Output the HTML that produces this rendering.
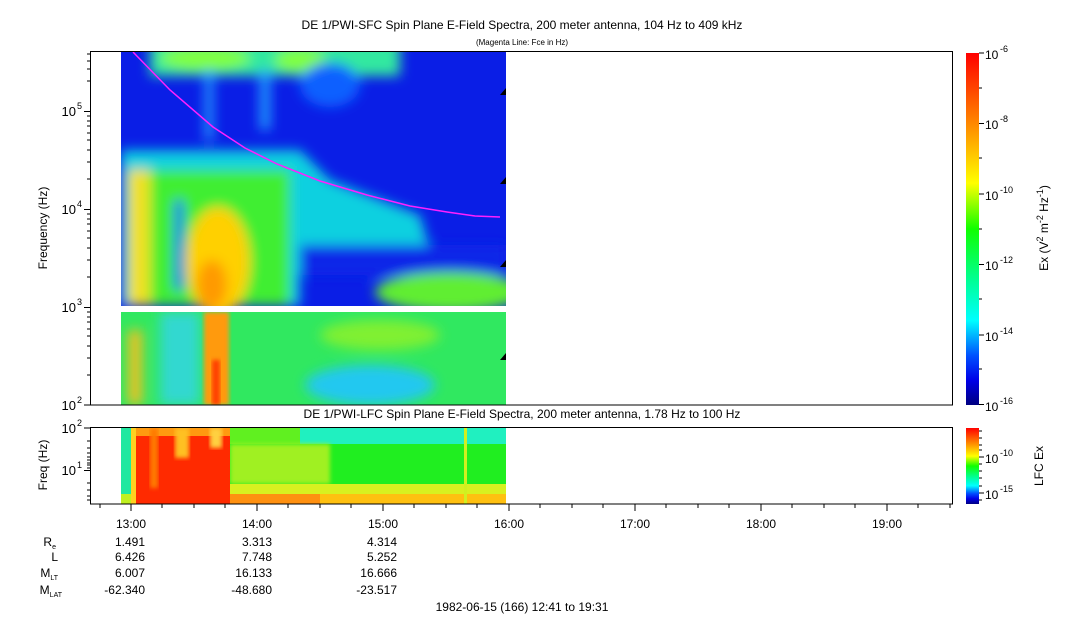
<!DOCTYPE html>
<html><head><meta charset="utf-8"><style>
body{margin:0;background:#fff;width:1083px;height:620px;overflow:hidden;font-family:"Liberation Sans",sans-serif;}
</style></head><body>
<svg width="1083" height="620" viewBox="0 0 1083 620" xmlns="http://www.w3.org/2000/svg" font-family="Liberation Sans, sans-serif">
<defs>
<linearGradient id="cb" x1="0" y1="0" x2="0" y2="1">
<stop offset="0" stop-color="#ff0000"/><stop offset="0.18" stop-color="#ff7a00"/><stop offset="0.37" stop-color="#ffff00"/><stop offset="0.5" stop-color="#10ff00"/><stop offset="0.65" stop-color="#00ff99"/><stop offset="0.76" stop-color="#00ffff"/><stop offset="0.86" stop-color="#0050ff"/><stop offset="0.93" stop-color="#0000e8"/><stop offset="1" stop-color="#000080"/>
</linearGradient>
<filter id="bl" x="-20%" y="-20%" width="140%" height="140%"><feGaussianBlur stdDeviation="6"/></filter>
<filter id="bl2"><feGaussianBlur stdDeviation="2"/></filter>
<clipPath id="c1"><rect x="121" y="52" width="385" height="254"/></clipPath>
<clipPath id="c2"><rect x="121" y="312" width="385" height="93"/></clipPath>
<clipPath id="c3"><rect x="121" y="428" width="385" height="76"/></clipPath>
</defs>
<text x="522" y="29" font-size="12" text-anchor="middle">DE 1/PWI-SFC  Spin Plane E-Field Spectra, 200 meter antenna, 104 Hz to 409 kHz</text>
<text x="522" y="45" font-size="8" text-anchor="middle">(Magenta Line: Fce in Hz)</text>
<text x="522" y="418" font-size="12" text-anchor="middle">DE 1/PWI-LFC  Spin Plane E-Field Spectra, 200 meter antenna, 1.78 Hz to 100 Hz</text>

<g clip-path="url(#c1)">
<rect x="121" y="52" width="385" height="254" fill="#0a1ee6"/>
<g filter="url(#bl)">
<rect x="150" y="40" width="250" height="36" fill="#30e8a0"/>
<ellipse cx="205" cy="58" rx="45" ry="12" fill="#80ff40"/>
<ellipse cx="300" cy="60" rx="25" ry="12" fill="#80ff40"/>
<ellipse cx="330" cy="85" rx="30" ry="22" fill="#1060ff"/>
<rect x="260" y="70" width="10" height="60" fill="#20a0ff"/>
<rect x="205" y="70" width="8" height="70" fill="#20a0ff"/>
<polygon points="121,150 300,150 330,180 420,215 430,250 300,250 300,306 121,306" fill="#10d0e0"/>
<rect x="300" y="245" width="206" height="30" fill="#0a28e8"/>
<rect x="128" y="170" width="42" height="136" fill="#f0e020"/>
<rect x="150" y="170" width="140" height="136" fill="#40ee30"/>
<ellipse cx="218" cy="262" rx="32" ry="55" fill="#ffd000"/>
<ellipse cx="212" cy="285" rx="15" ry="25" fill="#ff9a00"/>
<ellipse cx="450" cy="292" rx="75" ry="20" fill="#60ee30"/>
<rect x="175" y="200" width="8" height="90" fill="#1040ff"/>
</g>
</g>
<g clip-path="url(#c2)">
<rect x="121" y="312" width="385" height="93" fill="#30e860"/>
<g filter="url(#bl)">
<rect x="160" y="312" width="40" height="93" fill="#30d8d0"/>
<ellipse cx="370" cy="385" rx="65" ry="20" fill="#20c8f0"/>
<ellipse cx="380" cy="335" rx="60" ry="15" fill="#80f030"/>
<rect x="128" y="330" width="14" height="75" fill="#f0c020"/>
</g>
<rect x="204" y="312" width="25" height="93" fill="#ff9a10" filter="url(#bl2)"/>
<rect x="212" y="360" width="8" height="45" fill="#ff4000" filter="url(#bl2)"/>
</g>
<polyline points="133,52 170,90 213,127 245,148 277,164 320,181 367,195 410,206 447,212 475,216 500,217" fill="none" stroke="#ff20ff" stroke-width="1.5"/>
<g fill="#000">
<polygon points="506,88 500,95 506,95"/><polygon points="506,177 500,184 506,184"/><polygon points="506,260 500,267 506,267"/><polygon points="506,353 500,360 506,360"/>
</g>
<rect x="90.5" y="51.5" width="862" height="353.5" fill="none" stroke="#000" stroke-width="1"/>
<g stroke="#000" stroke-width="1">
<line x1="84" y1="111.5" x2="90" y2="111.5"/><line x1="84" y1="209.5" x2="90" y2="209.5"/><line x1="84" y1="307.5" x2="90" y2="307.5"/><line x1="84" y1="405" x2="90" y2="405"/>
<line x1="87" y1="81" x2="90" y2="81"/><line x1="87" y1="69" x2="90" y2="69"/><line x1="87" y1="61" x2="90" y2="61"/><line x1="87" y1="54" x2="90" y2="54"/>
<line x1="87" y1="179" x2="90" y2="179"/><line x1="87" y1="162" x2="90" y2="162"/><line x1="87" y1="150" x2="90" y2="150"/><line x1="87" y1="140" x2="90" y2="140"/><line x1="87" y1="133" x2="90" y2="133"/><line x1="87" y1="126" x2="90" y2="126"/><line x1="87" y1="121" x2="90" y2="121"/><line x1="87" y1="116" x2="90" y2="116"/>
<line x1="87" y1="277" x2="90" y2="277"/><line x1="87" y1="260" x2="90" y2="260"/><line x1="87" y1="248" x2="90" y2="248"/><line x1="87" y1="238" x2="90" y2="238"/><line x1="87" y1="231" x2="90" y2="231"/><line x1="87" y1="224" x2="90" y2="224"/><line x1="87" y1="219" x2="90" y2="219"/><line x1="87" y1="214" x2="90" y2="214"/>
<line x1="87" y1="375" x2="90" y2="375"/><line x1="87" y1="358" x2="90" y2="358"/><line x1="87" y1="346" x2="90" y2="346"/><line x1="87" y1="336" x2="90" y2="336"/><line x1="87" y1="329" x2="90" y2="329"/><line x1="87" y1="322" x2="90" y2="322"/><line x1="87" y1="317" x2="90" y2="317"/><line x1="87" y1="312" x2="90" y2="312"/>
</g>
<g font-size="13" text-anchor="end">
<text x="76" y="116">10</text><text x="76" y="214">10</text><text x="76" y="312">10</text><text x="76" y="410">10</text>
</g>
<g font-size="9"><text x="77" y="109">5</text><text x="77" y="207">4</text><text x="77" y="305">3</text><text x="77" y="403">2</text></g>
<text transform="translate(47,228) rotate(-90)" font-size="12" text-anchor="middle">Frequency (Hz)</text>

<rect x="966" y="53" width="13" height="352" fill="url(#cb)"/>
<g stroke="#000"><line x1="979" y1="53" x2="984" y2="53"/><line x1="979" y1="123.5" x2="984" y2="123.5"/><line x1="979" y1="194" x2="984" y2="194"/><line x1="979" y1="264.5" x2="984" y2="264.5"/><line x1="979" y1="335" x2="984" y2="335"/><line x1="979" y1="404.5" x2="984" y2="404.5"/>
<line x1="979" y1="88" x2="982" y2="88"/><line x1="979" y1="158" x2="982" y2="158"/><line x1="979" y1="229" x2="982" y2="229"/><line x1="979" y1="299" x2="982" y2="299"/><line x1="979" y1="369" x2="982" y2="369"/></g>
<g font-size="12"><text x="985" y="59">10</text><text x="985" y="129">10</text><text x="985" y="200">10</text><text x="985" y="270">10</text><text x="985" y="341">10</text><text x="985" y="411">10</text></g>
<g font-size="9"><text x="1000" y="52">-6</text><text x="1000" y="122">-8</text><text x="1000" y="193">-10</text><text x="1000" y="263">-12</text><text x="1000" y="334">-14</text><text x="1000" y="404">-16</text></g>
<text transform="translate(1048,228) rotate(-90)" font-size="12" text-anchor="middle">Ex (V<tspan font-size="9" dy="-5">2</tspan><tspan dy="5"> m</tspan><tspan font-size="9" dy="-5">-2</tspan><tspan dy="5"> Hz</tspan><tspan font-size="9" dy="-5">-1</tspan><tspan dy="5">)</tspan></text>

<g clip-path="url(#c3)">
<rect x="121" y="428" width="385" height="76" fill="#20ee20"/>
<rect x="121" y="428" width="10" height="76" fill="#20e8a0"/>
<rect x="121" y="494" width="10" height="10" fill="#c0f020"/>
<rect x="300" y="428" width="206" height="16" fill="#20f0c0"/>
<rect x="230" y="428" width="70" height="16" fill="#60f020"/>
<rect x="230" y="444" width="100" height="40" fill="#a0f020" filter="url(#bl2)"/>
<rect x="230" y="484" width="276" height="10" fill="#d8f020"/>
<rect x="230" y="494" width="276" height="10" fill="#ffc010"/>
<rect x="230" y="494" width="90" height="10" fill="#ff9010"/>
<rect x="131" y="428" width="99" height="76" fill="#ff2a00"/>
<rect x="131" y="428" width="99" height="8" fill="#ff9a10"/>
<rect x="150" y="428" width="8" height="60" fill="#ff7a00" filter="url(#bl2)"/>
<rect x="175" y="428" width="14" height="30" fill="#ffc020" filter="url(#bl2)"/>
<rect x="210" y="428" width="12" height="20" fill="#ffd040" filter="url(#bl2)"/>
<rect x="131" y="428" width="5" height="76" fill="#ffd020"/>
<rect x="464" y="428" width="3" height="76" fill="#d0f020"/>
</g>
<rect x="90.5" y="427.5" width="862" height="76.5" fill="none" stroke="#000"/>
<g stroke="#000"><line x1="84" y1="428" x2="90" y2="428"/><line x1="84" y1="470.5" x2="90" y2="470.5"/>
<line x1="87" y1="441" x2="90" y2="441"/><line x1="87" y1="448" x2="90" y2="448"/><line x1="87" y1="453" x2="90" y2="453"/><line x1="87" y1="457" x2="90" y2="457"/><line x1="87" y1="460" x2="90" y2="460"/><line x1="87" y1="463" x2="90" y2="463"/><line x1="87" y1="465" x2="90" y2="465"/><line x1="87" y1="468" x2="90" y2="468"/><line x1="87" y1="483" x2="90" y2="483"/><line x1="87" y1="490" x2="90" y2="490"/><line x1="87" y1="496" x2="90" y2="496"/><line x1="87" y1="500" x2="90" y2="500"/>
</g>
<g font-size="13" text-anchor="end"><text x="76" y="433">10</text><text x="76" y="475">10</text></g>
<g font-size="9"><text x="77" y="426">2</text><text x="77" y="468">1</text></g>
<text transform="translate(47,465) rotate(-90)" font-size="12" text-anchor="middle">Freq (Hz)</text>
<rect x="966" y="428" width="13" height="76" fill="url(#cb)"/>
<g stroke="#000"><line x1="979" y1="457" x2="984" y2="457"/><line x1="979" y1="493" x2="984" y2="493"/>
<line x1="979" y1="431" x2="982" y2="431"/><line x1="979" y1="438" x2="982" y2="438"/><line x1="979" y1="445" x2="982" y2="445"/><line x1="979" y1="450" x2="982" y2="450"/><line x1="979" y1="464" x2="982" y2="464"/><line x1="979" y1="471" x2="982" y2="471"/><line x1="979" y1="478" x2="982" y2="478"/><line x1="979" y1="486" x2="982" y2="486"/><line x1="979" y1="500" x2="982" y2="500"/></g>
<g font-size="12"><text x="985" y="463">10</text><text x="985" y="499">10</text></g>
<g font-size="9"><text x="1000" y="456">-10</text><text x="1000" y="492">-15</text></g>
<text transform="translate(1043,466) rotate(-90)" font-size="12" text-anchor="middle">LFC Ex</text>

<g stroke="#000">
<line x1="131" y1="504" x2="131" y2="511"/><line x1="257" y1="504" x2="257" y2="511"/><line x1="383" y1="504" x2="383" y2="511"/><line x1="509" y1="504" x2="509" y2="511"/><line x1="635" y1="504" x2="635" y2="511"/><line x1="761" y1="504" x2="761" y2="511"/><line x1="887" y1="504" x2="887" y2="511"/>
<line x1="100" y1="504" x2="100" y2="508"/><line x1="162" y1="504" x2="162" y2="508"/><line x1="194" y1="504" x2="194" y2="508"/><line x1="225" y1="504" x2="225" y2="508"/><line x1="288" y1="504" x2="288" y2="508"/><line x1="320" y1="504" x2="320" y2="508"/><line x1="351" y1="504" x2="351" y2="508"/><line x1="414" y1="504" x2="414" y2="508"/><line x1="446" y1="504" x2="446" y2="508"/><line x1="477" y1="504" x2="477" y2="508"/><line x1="540" y1="504" x2="540" y2="508"/><line x1="572" y1="504" x2="572" y2="508"/><line x1="603" y1="504" x2="603" y2="508"/><line x1="666" y1="504" x2="666" y2="508"/><line x1="698" y1="504" x2="698" y2="508"/><line x1="729" y1="504" x2="729" y2="508"/><line x1="792" y1="504" x2="792" y2="508"/><line x1="824" y1="504" x2="824" y2="508"/><line x1="855" y1="504" x2="855" y2="508"/><line x1="918" y1="504" x2="918" y2="508"/><line x1="950" y1="504" x2="950" y2="508"/>
</g>
<g font-size="12" text-anchor="middle">
<text x="131" y="528">13:00</text><text x="257" y="528">14:00</text><text x="383" y="528">15:00</text><text x="509" y="528">16:00</text><text x="635" y="528">17:00</text><text x="761" y="528">18:00</text><text x="887" y="528">19:00</text>
</g>
<g font-size="12" text-anchor="end">
<text x="56" y="546">R<tspan font-size="7" dy="3">e</tspan></text>
<text x="58" y="561">L</text>
<text x="58" y="577">M<tspan font-size="7" dy="3">LT</tspan></text>
<text x="62" y="594">M<tspan font-size="7" dy="3">LAT</tspan></text>
<text x="145" y="546">1.491</text><text x="272" y="546">3.313</text><text x="397" y="546">4.314</text>
<text x="145" y="561">6.426</text><text x="272" y="561">7.748</text><text x="397" y="561">5.252</text>
<text x="145" y="577">6.007</text><text x="272" y="577">16.133</text><text x="397" y="577">16.666</text>
<text x="145" y="594">-62.340</text><text x="272" y="594">-48.680</text><text x="397" y="594">-23.517</text>
</g>
<text x="522" y="611" font-size="12" text-anchor="middle">1982-06-15 (166) 12:41 to 19:31</text>
</svg>
</body></html>
